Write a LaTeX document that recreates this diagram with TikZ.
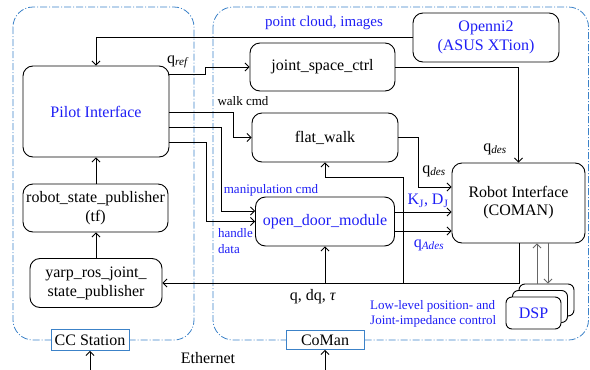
\documentclass[tikz,border=0pt]{standalone}
\usepackage{fontspec}
\setmainfont{Liberation Serif}
\usetikzlibrary{arrows.meta,calc}
\definecolor{txtblue}{RGB}{30,30,245}
\definecolor{frameblue}{RGB}{60,130,200}
\begin{document}
\begin{tikzpicture}[x=1pt,y=-1pt,
  box/.style={draw, line width=0.9pt, rounded corners=10pt, align=center, font=\fontsize{16}{19}\selectfont, inner sep=0pt},
  arr/.style={line width=0.8pt, -{Straight Barb[length=4pt,width=8pt]}},
  ln/.style={line width=0.8pt},
  big/.style={font=\fontsize{16}{19}\selectfont, inner sep=0pt},
  small/.style={font=\fontsize{13}{16}\selectfont, inner sep=0pt},
  frame/.style={draw=frameblue, line width=0.8pt, dash pattern=on 7pt off 2pt on 1pt off 2pt, rounded corners=20pt},
  tag/.style={draw=frameblue, fill=white, line width=0.9pt, font=\fontsize{16}{19}\selectfont, inner sep=0pt}
]
\useasboundingbox (0,0) rectangle (590,370);
% containers
\draw[frame] (13,7) rectangle (194,340);
\draw[frame] (213,7) rectangle (588.5,340);
\node[tag, minimum width=78pt, minimum height=21pt] (cc) at (90,340) {CC Station};
\node[tag, minimum width=78pt, minimum height=19pt] (coman) at (325,340) {CoMan};
\node[big] (eth) at (208,358) {Ethernet};
\coordinate (ccin) at (90,370);
\coordinate (comanin) at (325,370);
\draw[arr] (ccin) -- (cc.south);
\draw[arr] (comanin) -- (coman.south);

% nodes
\node[box, minimum width=146pt, minimum height=91pt, text=txtblue] (pilot) at (96,111.5) {Pilot Interface};
\node[box, minimum width=145pt, minimum height=48pt] (rsp) at (95.5,208) {robot\_state\_publisher\\(tf)};
\node[box, minimum width=132pt, minimum height=49pt] (yarp) at (96,283) {yarp\_ros\_joint\_\\state\_publisher};
\node[box, minimum width=145pt, minimum height=48pt] (jsc) at (322.5,67) {joint\_space\_ctrl};
\node[box, minimum width=146pt, minimum height=49pt, text=txtblue] (openni) at (486,37.5) {Openni2\\(ASUS XTion)};
\node[box, minimum width=146pt, minimum height=49pt] (fw) at (325,137.5) {flat\_walk};
\node[box, minimum width=139pt, minimum height=49pt, text=txtblue] (od) at (325,221.5) {open\_door\_module};
\node[box, minimum width=133pt, minimum height=80pt, font=\fontsize{16}{18}\selectfont] (ri) at (518.5,203) {Robot Interface\\(COMAN)};
\node[box, fill=white, minimum width=55pt, minimum height=32pt, rounded corners=6pt] (dsp3) at (546.5,300) {};
\node[box, fill=white, minimum width=55pt, minimum height=32pt, rounded corners=6pt] (dsp2) at (540,306.5) {};
\node[box, fill=white, minimum width=55pt, minimum height=32pt, rounded corners=6pt, text=txtblue] (dsp) at (533.5,313) {DSP};

% left column arrows
\draw[arr] (yarp.north -| 96,0) -- (rsp.south -| 96,0);
\draw[arr] (rsp.north -| 96,0) -- (pilot.south);

% openni to pilot
\draw[arr] (openni.west) -| (pilot.north);
\node[font=\fontsize{15}{18}\selectfont, inner sep=0pt, text=txtblue] (pc) at (324,23) {point cloud, images};

% q_ref
\draw[arr] (pilot.east |- 0,74) -- (205,74) -- (205,67) -- (jsc.west);
\node[big] (qref) at (178,62) {q\textsubscript{\textit{ref}}};

% walk cmd
\draw[arr] (pilot.east |- 0,112) -- (233,112) |- (fw.west);
\node[small] (wc) at (243,101) {walk cmd};

% manipulation cmd
\draw[arr] (pilot.east |- 0,127) -- (221,127) |- (od.west |- 0,211);
\node[small, text=txtblue] (mc) at (271,190) {manipulation cmd};

% handle data
\draw[arr] (pilot.east |- 0,142) -- (206,142) |- (od.west);
\node[small, text=txtblue, anchor=west, align=left, font=\fontsize{13}{16}\selectfont] (hd) at (218,241) {handle\\data};

% to robot interface
\draw[arr] (jsc.east) -| (ri.north);
\node[big] (qd1) at (495,149) {q\textsubscript{\textit{des}}};
\draw[arr] (fw.east) -- (418,137.5) |- (ri.west |- 0,187);
\node[big] (qd2) at (434,171) {q\textsubscript{\textit{des}}};
\draw[arr] (od.east |- 0,212) -- (ri.west |- 0,212);
\node[big, text=txtblue] (kd) at (428,201) {K\textsubscript{J}, D\textsubscript{J}};
\draw[arr] (od.east |- 0,231) -- (ri.west |- 0,231);
\node[big, text=txtblue] (qa) at (429,245) {q\textsubscript{\textit{Ades}}};

% feedback
\coordinate (fb1) at (519,283);
\coordinate (fb2) at (325,283);
\coordinate (fb3) at (403,283);
\coordinate (fb4) at (403,177);
\coordinate (fb5) at (325,177);
\draw[arr] (ri.south -| fb1) -- (fb1) -- (yarp.east);
\draw[arr] (fb2) -- (od.south);
\draw[arr] (fb3) -- (fb4) -- (fb5) -- (fw.south);
\node[big] (qdq) at (313,297) {q, dq, \textit{τ}};

% DSP links
\draw[arr, draw=black!60] (dsp3.north -| 537,0) -- (ri.south -| 537,0);
\draw[arr, draw=black!60] (ri.south -| 548,0) -- (dsp3.north -| 548,0);
\node[small, text=txtblue, anchor=west, align=left, font=\fontsize{13}{15}\selectfont] (ll) at (370,313.5) {Low-level position- and\\Joint-impedance control};
\end{tikzpicture}
\end{document}
